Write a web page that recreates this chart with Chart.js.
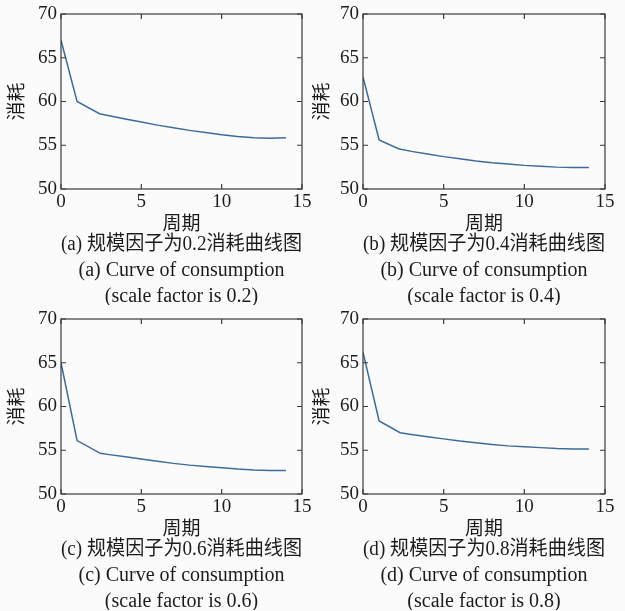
<!DOCTYPE html>
<html>
<head>
<meta charset="utf-8">
<script src="https://cdn.jsdelivr.net/npm/chart.js@4/dist/chart.umd.min.js"></script>
<style>
  body { margin: 0; background: #fbfbfb; }
  #wrap { position: relative; width: 625px; height: 611px; }
  .panel { position: absolute; }
</style>
</head>
<body>
<div id="wrap">
  <div class="panel" style="left:0;top:0"><canvas id="ca" width="312" height="305"></canvas></div>
  <div class="panel" style="left:312px;top:0"><canvas id="cb" width="313" height="305"></canvas></div>
  <div class="panel" style="left:0;top:305px"><canvas id="cc" width="312" height="305"></canvas></div>
  <div class="panel" style="left:312px;top:305px"><canvas id="cd" width="313" height="305"></canvas></div>
</div>
<script>
const periodsA = [0, 1, 2.4, 3, 4, 5, 6, 7, 8, 9, 10, 11, 12, 13, 14];
const consumptionA = [67.0, 60.0, 58.6, 58.38, 58.0, 57.65, 57.3, 57.0, 56.7, 56.45, 56.2, 56.0, 55.85, 55.8, 55.85];

const periodsB = [0, 1, 2.2, 3, 4, 5, 6, 7, 8, 9, 10, 11, 12, 13, 14];
const consumptionB = [62.8, 55.6, 54.6, 54.3, 54.0, 53.7, 53.45, 53.2, 53.0, 52.85, 52.7, 52.6, 52.5, 52.45, 52.45];

const periodsC = [0, 1, 2.45, 3, 4, 5, 6, 7, 8, 9, 10, 11, 12, 13, 14];
const consumptionC = [65.0, 56.1, 54.65, 54.5, 54.25, 54.0, 53.75, 53.5, 53.3, 53.15, 53.0, 52.85, 52.75, 52.7, 52.7];

const periodsD = [0, 1, 2.3, 3, 4, 5, 6, 7, 8, 9, 10, 11, 12, 13, 14];
const consumptionD = [66.2, 58.35, 57.0, 56.8, 56.55, 56.3, 56.05, 55.85, 55.65, 55.5, 55.4, 55.3, 55.2, 55.15, 55.15];

const xTicks = [0, 5, 10, 15];
const yTicks = [50, 55, 60, 65, 70];
const xTitle = '周期';
const yTitle = '消耗';

const captionA = ['(a) 规模因子为0.2消耗曲线图', '(a) Curve of consumption', '(scale factor is 0.2)'];
const captionB = ['(b) 规模因子为0.4消耗曲线图', '(b) Curve of consumption', '(scale factor is 0.4)'];
const captionC = ['(c) 规模因子为0.6消耗曲线图', '(c) Curve of consumption', '(scale factor is 0.6)'];
const captionD = ['(d) 规模因子为0.8消耗曲线图', '(d) Curve of consumption', '(scale factor is 0.8)'];

Chart.defaults.font.family = "'Liberation Serif', 'Noto Sans CJK SC', serif";
Chart.defaults.color = '#1c1c1c';

// box round the plot with inward ticks on all four sides
const framePlugin = {
  id: 'frame',
  afterDatasetsDraw(chart) {
    const { ctx, chartArea: a, scales: { x, y } } = chart;
    ctx.save();
    ctx.strokeStyle = '#3a3a3a';
    ctx.lineWidth = 1.2;
    ctx.strokeRect(a.left, a.top, a.right - a.left, a.bottom - a.top);
    ctx.beginPath();
    x.ticks.forEach(t => {
      const px = x.getPixelForValue(t.value);
      ctx.moveTo(px, a.bottom); ctx.lineTo(px, a.bottom - 5);
      ctx.moveTo(px, a.top); ctx.lineTo(px, a.top + 5);
    });
    y.ticks.forEach(t => {
      const py = y.getPixelForValue(t.value);
      ctx.moveTo(a.left, py); ctx.lineTo(a.left + 5, py);
      ctx.moveTo(a.right, py); ctx.lineTo(a.right - 5, py);
    });
    ctx.stroke();
    ctx.restore();
  }
};

const bgPlugin = {
  id: 'bg',
  beforeDraw(chart) {
    const ctx = chart.ctx;
    ctx.save();
    ctx.fillStyle = '#fbfbfb';
    ctx.fillRect(0, 0, chart.width, chart.height);
    ctx.restore();
  }
};

const makeChart = (id, periods, values, caption, yWidth, yTitlePad, rightPad) => {
  return new Chart(document.getElementById(id), {
    type: 'line',
    data: {
      datasets: [{
        data: periods.map((p, i) => ({ x: p, y: values[i] })),
        borderColor: '#3b6b9c',
        borderWidth: 1.5,
        pointRadius: 0,
        tension: 0,
        fill: false
      }]
    },
    options: {
      responsive: false,
      animation: false,
      layout: { padding: { top: 14, bottom: 0, left: 0, right: rightPad } },
      plugins: {
        legend: { display: false },
        tooltip: { enabled: false },
        title: {
          display: true,
          position: 'bottom',
          fullSize: false,
          text: caption,
          color: '#1c1c1c',
          font: { size: 20, lineHeight: '26px', weight: 'normal' },
          padding: { top: 2, bottom: -5 }
        }
      },
      scales: {
        x: {
          type: 'linear',
          min: 0,
          max: 15,
          afterBuildTicks: s => { s.ticks = xTicks.map(v => ({ value: v })); },
          afterFit: s => { s.height = 41; s.paddingLeft = 0; s.paddingRight = 0; },
          grid: { display: false, drawTicks: false },
          border: { display: false },
          ticks: { padding: 4, font: { size: 19, lineHeight: 1 }, maxRotation: 0 },
          title: { display: true, text: xTitle, font: { size: 19, lineHeight: 1 }, padding: { top: 0, bottom: -5 } }
        },
        y: {
          min: 50,
          max: 70,
          afterBuildTicks: s => { s.ticks = yTicks.map(v => ({ value: v })); },
          afterFit: s => { s.width = yWidth; s.paddingTop = 0; s.paddingBottom = 0; },
          grid: { display: false, drawTicks: false },
          border: { display: false },
          ticks: { padding: 4, font: { size: 19, lineHeight: 1 } },
          title: { display: true, text: yTitle, font: { size: 19, lineHeight: 1 }, padding: { top: yTitlePad, bottom: 0 } }
        }
      }
    },
    plugins: [bgPlugin, framePlugin]
  });
};

makeChart('ca', periodsA, consumptionA, captionA, 61, 8.5, 10);
makeChart('cb', periodsB, consumptionB, captionB, 51, 2, 20);
makeChart('cc', periodsC, consumptionC, captionC, 61, 8.5, 10);
makeChart('cd', periodsD, consumptionD, captionD, 51, 2, 20);
</script>
</body>
</html>
